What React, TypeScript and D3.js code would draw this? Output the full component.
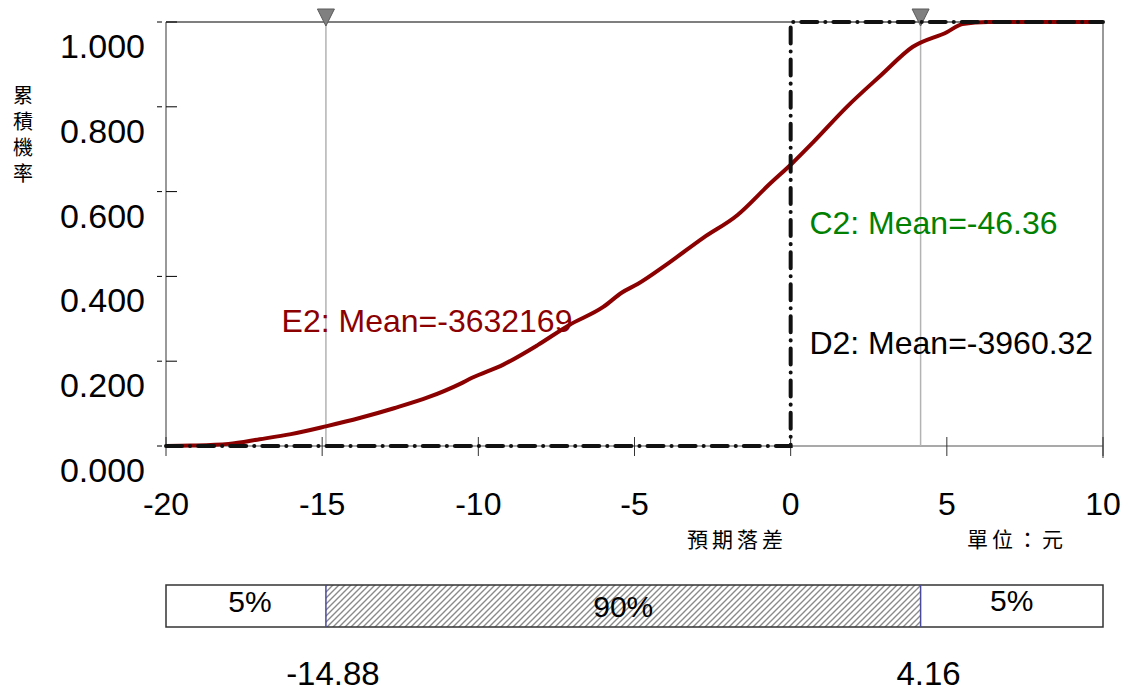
import React from "react";
import * as d3 from "d3";

// Cumulative distribution of E2 (預期落差)
const cdfX = [-20, -19.2, -18, -17, -16, -14.85, -13.8, -12.7, -11.6, -10.6, -10.2, -9.2, -8.1, -7.1, -6.0, -5.4, -4.9, -3.9, -2.8, -1.7, -0.7, 0.05, 0.7, 1.8, 2.9, 3.9, 5.0, 5.5, 6.3, 10];
const cdfP = [0, 0.001, 0.005, 0.016, 0.028, 0.047, 0.066, 0.089, 0.115, 0.146, 0.161, 0.192, 0.238, 0.285, 0.328, 0.362, 0.382, 0.432, 0.491, 0.545, 0.616, 0.667, 0.715, 0.800, 0.875, 0.941, 0.976, 0.995, 1.0, 1.0];

// D2 step distribution
const stepX = [-20, 0, 0, 10];
const stepP = [0, 0, 1, 1];

const xTicks = [-20, -15, -10, -5, 0, 5, 10];
const yTicks = [0, 0.2, 0.4, 0.6, 0.8, 1.0];

const lowerBound = -14.88;
const upperBound = 4.16;
const bandLabels = ["5%", "90%", "5%"];

const annotations = [
  { text: "E2: Mean=-3632169", x: -16.3, y: 0.27, color: "#8B0000" },
  { text: "C2: Mean=-46.36", x: 0.6, y: 0.5, color: "#008000" },
  { text: "D2: Mean=-3960.32", x: 0.6, y: 0.218, color: "#000000" },
];

const yAxisTitle = "累積機率";

export default function App() {
  const W = 1131, H = 691;
  const x = d3.scaleLinear().domain([-20, 10]).range([166, 1103]);
  const y = d3.scaleLinear().domain([0, 1]).range([446, 22]);

  const cdfLine = d3
    .line<number>()
    .x((_, i) => x(cdfX[i]))
    .y((d) => y(d))
    .curve(d3.curveMonotoneX);
  const stepLine = d3
    .line<number>()
    .x((_, i) => x(stepX[i]))
    .y((d) => y(d));

  const font = "'Liberation Sans', Arial, sans-serif";
  const cjk = "'Noto Sans CJK TC', sans-serif";
  const xl = x(lowerBound), xu = x(upperBound);
  const barTop = 585, barBot = 627;

  return (
    <svg width={W} height={H} style={{ position: "absolute", left: 0, top: 0, background: "#fff" }}>
      <defs>
        <pattern id="hatch" width="6" height="6" patternUnits="userSpaceOnUse">
          <path d="M-1,7 L7,-1 M-4,4 L4,-4 M2,10 L10,2" stroke="#8a8a8a" strokeWidth="1.4" />
        </pattern>
      </defs>

      {/* frame */}
      <line x1={x(-20)} x2={x(10)} y1={y(1)} y2={y(1)} stroke="#000" strokeWidth={1.2} />
      <line x1={x(-20)} x2={x(-20)} y1={y(1)} y2={y(0)} stroke="#555" strokeWidth={1.2} />
      <line x1={x(10)} x2={x(10)} y1={y(1)} y2={y(0) + 12} stroke="#555" strokeWidth={1.2} />
      <line x1={x(-20)} x2={x(10)} y1={y(0)} y2={y(0)} stroke="#555" strokeWidth={1.2} />

      {/* y ticks */}
      {yTicks.map((t) => (
        <g key={t}>
          <line x1={157} x2={162} y1={y(t)} y2={y(t)} stroke="#000" strokeWidth={1} />
          <line x1={166} x2={177} y1={y(t)} y2={y(t)} stroke="#000" strokeWidth={1} />
          <text x={145} y={y(t) + 36} textAnchor="end" fontFamily={font} fontSize={34} fill="#000">
            {t.toFixed(3)}
          </text>
        </g>
      ))}

      {/* x ticks */}
      {xTicks.map((t) => (
        <g key={t}>
          <line x1={x(t)} x2={x(t)} y1={y(0) - 9} y2={y(0) + 10} stroke="#333" strokeWidth={1} />
          <text x={x(t)} y={515} textAnchor="middle" fontFamily={font} fontSize={32} fill="#000">
            {t}
          </text>
        </g>
      ))}

      {/* percentile markers */}
      {[lowerBound, upperBound].map((v) => (
        <g key={v}>
          <line x1={x(v)} x2={x(v)} y1={y(1)} y2={y(0)} stroke="#b3b3b3" strokeWidth={1.5} />
          <path
            d={`M${x(v) - 8.5},9 L${x(v) + 8.5},9 L${x(v)},26 Z`}
            fill="#808080"
            stroke="#5a5a5a"
            strokeWidth={1}
          />
        </g>
      ))}

      {/* curves */}
      <path d={cdfLine(cdfP) || ""} fill="none" stroke="#8B0000" strokeWidth={4} strokeLinejoin="round" />
      <path
        d={stepLine(stepP) || ""}
        fill="none"
        stroke="#111"
        strokeWidth={4}
        strokeDasharray="16,8,0.1,8"
        strokeLinecap="round"
      />

      {/* annotations */}
      {annotations.map((a) => (
        <text key={a.text} x={x(a.x)} y={y(a.y)} fontFamily={font} fontSize={32} fill={a.color}>
          {a.text}
        </text>
      ))}

      {/* axis titles */}
      <text
        x={23}
        y={85}
        writingMode="vertical-rl"
        style={{ writingMode: "vertical-rl" } as React.CSSProperties}
        fontFamily={cjk}
        fontSize={20}
        letterSpacing={6}
        fill="#000"
      >
        {yAxisTitle}
      </text>
      <text x={687} y={547} fontFamily={cjk} fontSize={21} letterSpacing={4} fill="#000">
        預期落差
      </text>
      <text x={967} y={547} fontFamily={cjk} fontSize={21} letterSpacing={4} fill="#000">
        單位：元
      </text>

      {/* confidence band bar */}
      <rect x={xl} y={barTop} width={xu - xl} height={barBot - barTop} fill="url(#hatch)" />
      <rect x={x(-20)} y={barTop} width={x(10) - x(-20)} height={barBot - barTop} fill="none" stroke="#333" strokeWidth={1.5} />
      <line x1={xl} x2={xl} y1={barTop} y2={barBot} stroke="#4a4a9a" strokeWidth={1.5} />
      <line x1={xu} x2={xu} y1={barTop} y2={barBot} stroke="#4a4a9a" strokeWidth={1.5} />
      <text x={(x(-20) + xl) / 2 + 4} y={612} textAnchor="middle" fontFamily={font} fontSize={30}>{bandLabels[0]}</text>
      <text x={(xl + xu) / 2} y={617} textAnchor="middle" fontFamily={font} fontSize={30}>{bandLabels[1]}</text>
      <text x={(xu + x(10)) / 2} y={611} textAnchor="middle" fontFamily={font} fontSize={30}>{bandLabels[2]}</text>

      <text x={xl + 7} y={685} textAnchor="middle" fontFamily={font} fontSize={33}>{lowerBound.toFixed(2)}</text>
      <text x={xu + 8} y={685} textAnchor="middle" fontFamily={font} fontSize={33}>{upperBound.toFixed(2)}</text>
    </svg>
  );
}
